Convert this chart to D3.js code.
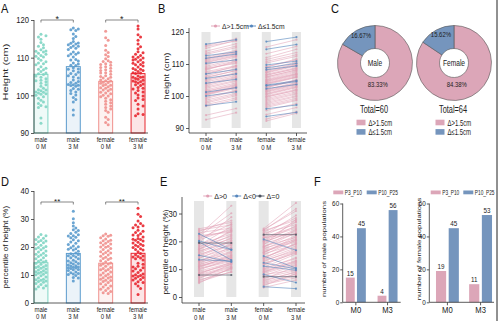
<!DOCTYPE html>
<html>
<head>
<meta charset="utf-8">
<script src="https://cdn.jsdelivr.net/npm/d3@7"></script>
<style>
  body { margin: 0; background: #fff; }
  svg { display: block; }
  text { font-family: "Liberation Sans", Arial, Helvetica, sans-serif; }
</style>
</head>
<body>
<svg id="fig" width="500" height="321"></svg>
<script>
// ---------- data ----------
const groupKeys = ["m0", "m3", "f0", "f3"];
const groupTicks = [["male", "0 M"], ["male", "3 M"], ["female", "0 M"], ["female", "3 M"]];

// body height (cm), one entry per child, same order at 0 and 3 months
const maleHeight0M = [116.2,115.8,115.5,114.9,114.0,113.4,113.0,112.6,112.1,111.8,
  111.5,111.2,110.9,110.6,110.2,109.8,109.3,108.9,108.4,108.1,
  107.6,107.2,106.8,106.3,105.9,105.5,105.1,104.8,104.4,104.0,
  103.6,103.2,102.8,102.4,101.9,101.5,101.2,100.9,100.6,100.3,
  100.0,99.6,99.2,98.7,98.2,97.8,97.3,97.0,94.0,92.6,
  111.7,110.4,108.6,106.9,105.7,103.9,101.4,100.8,100.4,96.8];
const maleHeight3M = [117.6,117.9,117.2,117.4,116.3,115.6,115.1,113.8,114.3,113.1,
  113.6,113.4,113.0,112.7,111.3,112.2,111.5,111.0,110.5,110.9,
  109.5,109.1,109.4,108.6,107.9,106.9,107.3,107.0,106.5,105.2,
  105.8,105.5,104.9,104.6,104.1,103.7,102.6,103.2,102.9,102.4,
  101.3,101.8,101.6,100.9,100.5,100.1,99.4,98.2,96.1,94.8,
  113.9,112.5,110.2,108.3,108.0,106.1,103.4,102.7,102.8,98.9];
const femaleHeight0M = [117.0,115.3,114.6,113.2,112.0,111.4,110.8,110.3,109.7,109.2,
  108.8,108.4,108.0,107.6,107.2,106.8,106.4,106.0,105.6,105.2,
  104.8,104.4,104.1,103.8,103.5,103.2,102.9,102.6,102.3,102.0,
  101.6,101.2,100.8,100.4,100.0,99.6,99.2,98.8,98.4,98.0,
  97.6,97.2,96.8,96.4,96.0,95.5,94.2,93.6,92.8,92.2,
  109.0,108.2,107.4,106.6,105.9,105.0,104.6,103.9,103.4,102.7,
  101.9,101.4,100.6,99.8];
const femaleHeight3M = [118.4,117.6,116.1,115.5,114.6,113.6,112.9,112.4,110.9,111.3,
  110.2,110.6,110.1,109.9,109.4,108.9,108.7,108.1,107.8,107.5,
  106.9,106.6,106.3,105.9,105.8,104.5,105.1,104.8,103.6,104.3,
  103.8,103.3,103.0,102.6,102.1,101.9,101.3,100.9,100.6,100.1,
  99.8,99.3,98.9,98.6,97.2,97.6,96.4,94.9,95.1,94.6,
  111.6,109.4,109.6,108.5,108.2,107.1,106.8,106.0,104.8,104.9,
  104.0,103.6,102.8,101.7];

// height percentile (%), same children
const malePct0M = [24.5,24.0,23.6,23.1,22.7,22.3,21.9,21.5,21.0,20.6,
  20.2,19.8,19.4,19.0,18.6,18.2,17.8,17.4,17.0,16.6,
  16.2,15.8,15.4,15.0,14.6,14.2,13.8,13.4,13.0,12.7,
  12.4,12.1,11.8,11.5,11.2,10.9,10.6,10.3,10.1,11.0,
  12.9,14.9,17.1,19.6,22.1,
  9.7,9.3,8.9,8.5,8.1,7.9,7.7,7.4,7.0,6.6,6.2,5.8,5.4,5.0,8.3];
const malePct3M = [26.8,25.9,27.5,24.8,17.0,32.8,30.1,23.9,26.2,24.4,
  16.9,13.3,19.4,22.6,25.3,21.8,23.5,20.9,22.2,19.7,
  21.3,20.4,18.5,12.6,19.2,17.6,18.9,12.9,16.4,17.3,
  15.8,16.2,14.7,15.3,14.1,13.6,15.0,13.2,12.8,14.4,
  17.9,20.1,24.0,28.7,23.3,
  13.9,12.3,11.6,12.0,11.1,7.9,10.8,10.4,9.8,11.9,8.9,10.2,9.1,10.5,12.5];
const femalePct0M = [24.6,24.2,23.8,23.3,22.9,22.4,22.0,21.5,21.1,20.7,
  20.3,19.9,19.5,19.1,18.7,18.3,17.9,17.5,17.1,16.7,
  16.3,15.9,15.5,15.1,14.7,14.3,13.9,13.5,13.1,12.7,
  12.3,11.9,11.5,11.1,10.7,10.3,10.0,12.0,14.0,16.0,
  18.0,20.0,22.2,24.0,21.3,
  9.7,9.3,8.9,8.5,8.1,7.7,7.3,6.9,6.5,6.1,
  5.7,5.3,4.9,4.5,4.1,3.7,3.4,8.0,9.0];
const femalePct3M = [33.8,30.9,27.6,28.4,26.0,22.4,27.1,25.2,24.7,16.8,
  26.9,23.6,24.3,22.8,27.9,21.4,23.0,20.6,22.1,20.2,
  19.8,21.7,18.9,20.5,10.4,18.3,19.1,17.7,16.6,17.2,
  10.1,15.8,16.1,9.6,15.4,13.8,14.2,16.4,19.4,21.0,
  24.1,25.6,29.3,31.7,22.7,
  13.1,12.6,12.2,11.7,5.2,11.4,7.3,9.5,10.9,8.8,
  9.1,8.2,7.6,6.9,8.4,3.0,6.1,9.8,12.9];

const heightTicks = [90, 100, 110, 120];
const pctTicksD = [0, 10, 20, 30, 40];
const pctTicksE = [0, 10, 20, 30];
const countTicks = [0, 20, 40, 60];

const sigHeight = ["*", "*"];
const sigPct = ["**", "**"];

// share of children by height gain
const donutNames = ["Male", "Female"];
const donutTotals = [60, 64];
const donutPctOver = [83.33, 84.38];
const donutPctUnder = [16.67, 15.62];
const gainLegend = ["\u0394>1.5cm", "\u0394\u22641.5cm"];
const changeLegend = ["\u0394>0", "\u0394<0", "\u0394=0"];

// number of children per percentile band
const popMonths = ["M0", "M3"];
const popBands = ["P3_P10", "P10_P25"];
const malePopP3P10 = [15, 4];
const malePopP10P25 = [45, 56];
const femalePopP3P10 = [19, 11];
const femalePopP10P25 = [45, 53];

// ---------- styling ----------
const groupColors = ["#7fd5c3", "#5b9bcd", "#f0908d", "#e8262f"];
const PINK = "#dca6b8", BLUE = "#7595bd";
const LPINK = "#e09fb4", LBLUE = "#5586bd", LGRAY = "#4b5260";
const AX = "#333", TXT = "#222";

const svg = d3.select("#fig");

function txt(parent, x, y, s, o = {}) {
  const rot = o.rot ? ` rotate(${o.rot})` : "";
  return parent.append("text")
    .attr("transform", `translate(${x},${y}) scale(${o.sx ?? 0.8},1)${rot}`)
    .attr("font-size", o.size ?? 8)
    .attr("text-anchor", o.anchor ?? "start")
    .attr("fill", o.fill ?? TXT)
    .text(s);
}

function hline(parent, x1, x2, y) {
  parent.append("line").attr("x1", x1).attr("x2", x2).attr("y1", y).attr("y2", y)
    .attr("stroke", AX).attr("stroke-width", 0.8);
}
function vline(parent, x, y1, y2) {
  parent.append("line").attr("x1", x).attr("x2", x).attr("y1", y1).attr("y2", y2)
    .attr("stroke", AX).attr("stroke-width", 0.8);
}

function leftAxis(parent, scale, ticks, x, top, bottom, o = {}) {
  const g = parent.append("g").attr("transform", `translate(${x},0)`)
    .call(d3.axisLeft(scale).tickValues(ticks).tickSize(o.tick ?? 3).tickPadding(o.pad ?? 2).tickSizeOuter(0));
  g.select(".domain").remove();
  g.selectAll(".tick line").attr("stroke", AX).attr("stroke-width", 0.8);
  g.selectAll(".tick text").each(function () {
    const t = d3.select(this);
    const tx = +t.attr("x") || 0;
    t.attr("x", null).attr("transform", `translate(${tx},0) scale(${o.sx ?? 0.9},1)`);
  }).attr("font-size", o.size ?? 8.5).attr("fill", TXT);
  g.attr("font-family", null);
  vline(parent, x, top, bottom);
  return g;
}

function groupLabels(parent, xPos, y, o = {}) {
  groupKeys.forEach((k, i) => {
    const t = parent.append("text")
      .attr("transform", `translate(${xPos(k)},${y}) scale(${o.sx ?? 0.8},1)`)
      .attr("font-size", o.size ?? 7.5).attr("text-anchor", "middle").attr("fill", TXT);
    t.append("tspan").attr("x", 0).attr("dy", 0).text(groupTicks[i][0]);
    t.append("tspan").attr("x", 0).attr("dy", o.lh ?? 8).text(groupTicks[i][1]);
  });
}

function swarm(vals, y, cx, r, gap, half) {
  const pts = vals.map(v => ({ v, y: y(v) })).sort((a, b) => a.y - b.y);
  const offs = [0];
  for (let k = 1; k * gap <= half; k++) offs.push(k * gap, -k * gap);
  const placed = [];
  for (const p of pts) {
    let best = 0, bestD = -1;
    for (const o of offs) {
      const x = cx + o;
      let dmin = Infinity;
      for (const q of placed) {
        if (Math.abs(q.y - p.y) < 2 * r + 1) dmin = Math.min(dmin, Math.hypot(q.x - x, q.y - p.y));
      }
      if (dmin >= 2 * r) { best = o; break; }
      if (dmin > bestD) { bestD = dmin; best = o; }
    }
    p.x = cx + best;
    placed.push(p);
  }
  return placed;
}

function bracket(parent, x1, x2, y, mark, size) {
  parent.append("path").attr("d", `M${x1},${y + 2.5}V${y}H${x2}V${y + 2.5}`)
    .attr("fill", "none").attr("stroke", "#555").attr("stroke-width", 0.7);
  txt(parent, (x1 + x2) / 2, y + 1.5, mark, { size, anchor: "middle", sx: 1 });
}

// ---------- bar + dot panels (A, D) ----------
function dotBars(series, yScale, ticks, yTop, yBottom, marks, markY, title, titleOpt) {
  const g = svg.append("g");
  const x = d3.scaleBand().domain(groupKeys).range([34, 145]).paddingInner(0.57).paddingOuter(0);
  const base = yScale(ticks[0]);
  series.forEach((vals, i) => {
    const k = groupKeys[i];
    const m = d3.mean(vals);
    g.append("rect").attr("x", x(k)).attr("width", x.bandwidth())
      .attr("y", yScale(m)).attr("height", base - yScale(m))
      .attr("fill", groupColors[i]).attr("fill-opacity", 0.12)
      .attr("stroke", groupColors[i]).attr("stroke-width", 1);
    const pts = swarm(vals, yScale, x(k) + x.bandwidth() / 2, 1.5, 2.5, 6.2);
    g.selectAll(null).data(pts).join("circle")
      .attr("cx", d => d.x).attr("cy", d => d.y).attr("r", 1.5)
      .attr("fill", groupColors[i]).attr("fill-opacity", 0.9);
  });
  leftAxis(g, yScale, ticks, 34, yTop, yBottom);
  hline(g, 34, 148, yBottom);
  const c = k => x(k) + x.bandwidth() / 2;
  bracket(g, c("m0"), c("m3"), markY, marks[0], titleOpt.markSize);
  bracket(g, c("f0"), c("f3"), markY, marks[1], titleOpt.markSize);
  groupLabels(g, c, yBottom + 8.5);
  txt(g, titleOpt.x, titleOpt.y, title, { size: titleOpt.size, anchor: "middle", rot: -90, sx: titleOpt.sx });
}

const yA = d3.scaleLinear().domain([90, 120]).range([133, 20]);
dotBars([maleHeight0M, maleHeight3M, femaleHeight0M, femaleHeight3M], yA, heightTicks, 20, 133,
  sigHeight, 20, "Height (cm)", { x: 8, y: 72, size: 11, sx: 0.7, markSize: 9 });

const yD = d3.scaleLinear().domain([0, 40]).range([303, 191]);
dotBars([malePct0M, malePct3M, femalePct0M, femalePct3M], yD, pctTicksD, 191, 303,
  sigPct, 202, "percentile of height (%)", { x: 8, y: 247, size: 8, sx: 0.9, markSize: 8 });

// ---------- paired line panels (B, E) ----------
function pairedPanel(pairs, classify, colors, legendItems, legendX, legendY, yScale, ticks, cfg) {
  const g = svg.append("g");
  const x = d3.scalePoint().domain(groupKeys).range(cfg.xRange);
  groupKeys.forEach(k => {
    g.append("rect").attr("x", x(k) - cfg.colW / 2).attr("width", cfg.colW)
      .attr("y", yScale(cfg.domTop)).attr("height", yScale(cfg.domBottom) - yScale(cfg.domTop))
      .attr("fill", "#e6e6e6");
  });
  const segs = [];
  pairs.forEach(([a, b, ka, kb]) => {
    a.forEach((v, i) => segs.push({ x1: x(ka), x2: x(kb), v0: v, v1: b[i], c: classify(v, b[i]) }));
  });
  // draw the majority class first so minority lines sit on top
  segs.sort((s, t) => (s.c === 0 ? 0 : 1) - (t.c === 0 ? 0 : 1));
  segs.forEach(s => {
    const col = colors[s.c];
    const op = s.c === 0 ? 0.7 : 0.8;
    g.append("line").attr("x1", s.x1).attr("x2", s.x2)
      .attr("y1", yScale(s.v0)).attr("y2", yScale(s.v1))
      .attr("stroke", col).attr("stroke-width", 0.75).attr("stroke-opacity", op);
    g.append("circle").attr("cx", s.x1).attr("cy", yScale(s.v0)).attr("r", 1.1).attr("fill", col).attr("fill-opacity", op);
    g.append("circle").attr("cx", s.x2).attr("cy", yScale(s.v1)).attr("r", 1.1).attr("fill", col).attr("fill-opacity", op);
  });
  leftAxis(g, yScale, ticks, cfg.axisX, cfg.axisTop, cfg.axisBottom);
  hline(g, cfg.axisX, cfg.axisRight, cfg.axisBottom);
  groupKeys.forEach(k => vline(g, x(k), cfg.axisBottom, cfg.axisBottom + 3));
  groupLabels(g, x, cfg.axisBottom + 9);
  txt(g, cfg.titleX, cfg.titleY, cfg.title, { size: cfg.titleSize, anchor: "middle", rot: -90, sx: cfg.titleSx });
  legendItems.forEach((lab, i) => {
    const lx = legendX[i];
    g.append("line").attr("x1", lx - 4.5).attr("x2", lx + 4.5).attr("y1", legendY).attr("y2", legendY)
      .attr("stroke", colors[i]).attr("stroke-width", 0.9);
    g.append("circle").attr("cx", lx).attr("cy", legendY).attr("r", 1.6).attr("fill", colors[i]);
    txt(g, lx + 6.5, legendY + 2.6, lab, { size: 7.5, sx: cfg.legendSx });
  });
}

const gain = (a, b) => Math.round((b - a) * 100) / 100;

const yB = d3.scaleLinear().domain([90, 120]).range([128, 32]);
pairedPanel(
  [[maleHeight0M, maleHeight3M, "m0", "m3"], [femaleHeight0M, femaleHeight3M, "f0", "f3"]],
  (a, b) => gain(a, b) > 1.5 ? 0 : 1,
  [LPINK, LBLUE], gainLegend, [215.5, 251.5], 26, yB, heightTicks,
  { xRange: [206, 296.5], colW: 9, domTop: 120, domBottom: 90, axisX: 189, axisTop: 28, axisBottom: 133,
    axisRight: 307, title: "height (cm)", titleX: 168.5, titleY: 76, titleSize: 9.4, titleSx: 0.75, legendSx: 0.9 });

const yE = d3.scaleLinear().domain([0, 34.5]).range([297, 201]);
pairedPanel(
  [[malePct0M, malePct3M, "m0", "m3"], [femalePct0M, femalePct3M, "f0", "f3"]],
  (a, b) => { const d = gain(a, b); return d > 0 ? 0 : (d < 0 ? 1 : 2); },
  [LPINK, LBLUE, LGRAY], changeLegend, [207.7, 236.7, 260], 196, yE, pctTicksE,
  { xRange: [199, 296], colW: 10, domTop: 34.5, domBottom: 0, axisX: 182, axisTop: 197, axisBottom: 303,
    axisRight: 305, title: "percentile of height (%)", titleX: 168, titleY: 252, titleSize: 8.3, titleSx: 0.85, legendSx: 0.95 });

// ---------- donuts (C) ----------
(function () {
  const g = svg.append("g");
  const centers = [375, 454], cy = 63;
  const rIn = 14.5, rOut = 37.5;
  const pie = d3.pie().sort(null).value(d => d.v);
  const arc = d3.arc().innerRadius(rIn).outerRadius(rOut);
  const labelArc = d3.arc().innerRadius(32).outerRadius(32);
  donutNames.forEach((name, i) => {
    const cx = centers[i];
    const gg = g.append("g").attr("transform", `translate(${cx},${cy})`);
    const slices = pie([{ k: 0, v: donutPctOver[i] }, { k: 1, v: donutPctUnder[i] }]);
    gg.selectAll("path").data(slices).join("path")
      .attr("d", arc).attr("fill", d => d.data.k === 0 ? PINK : BLUE)
      .attr("stroke", "#555").attr("stroke-width", 0.6);
    // small slice label near the outer edge, large slice label below the hole
    const pSmall = labelArc.centroid(slices[1]);
    txt(gg, pSmall[0] + 2, pSmall[1] + 2.5, donutPctUnder[i].toFixed(2) + "%", { size: 7, anchor: "middle", sx: 0.85 });
    const ang = Math.PI * 0.96;
    txt(gg, 22 * Math.sin(ang), -22 * Math.cos(ang) + 2.5, donutPctOver[i].toFixed(2) + "%", { size: 7, anchor: "middle", sx: 0.85 });
    txt(gg, 0, 3, name, { size: 8.5, anchor: "middle", sx: 0.78 });
    txt(g, cx - 1, 113, "Total=" + donutTotals[i], { size: 10, anchor: "middle", sx: 0.74 });
    gainLegend.forEach((lab, j) => {
      const ly = 122.5 + j * 9.4;
      g.append("rect").attr("x", cx - 18.5).attr("y", ly - 2.8).attr("width", 9).attr("height", 5.6)
        .attr("fill", j === 0 ? PINK : BLUE);
      txt(g, cx - 6.5, ly + 3, lab, { size: 8.5, sx: 0.7 });
    });
  });
})();

// ---------- grouped bars (F) ----------
function popChart(p3p10, p10p25, cfg) {
  const g = svg.append("g");
  const y = d3.scaleLinear().domain([0, 60]).range([302.3, 203.5]);
  const x = d3.scaleBand().domain(popMonths).range(cfg.range).paddingInner(cfg.pin).paddingOuter(cfg.pout);
  const xs = d3.scaleBand().domain(popBands).range([0, x.bandwidth()]).paddingInner(0.2);
  const series = [p3p10, p10p25];
  const cols = [PINK, BLUE];
  popBands.forEach((b, j) => {
    popMonths.forEach((m, i) => {
      const v = series[j][i];
      const bx = x(m) + xs(b);
      g.append("rect").attr("x", bx).attr("width", xs.bandwidth())
        .attr("y", y(v)).attr("height", y(0) - y(v)).attr("fill", cols[j]);
      txt(g, bx + xs.bandwidth() / 2, y(v) - 2, String(v), { size: 7, anchor: "middle", sx: 0.9 });
    });
  });
  leftAxis(g, y, countTicks, cfg.axisX, 203.5, 302.3, { size: 7.5, sx: 0.85, tick: 2.5, pad: 1 });
  hline(g, cfg.axisX, cfg.axisRight, 302.3);
  popMonths.forEach(m => {
    const cx = x(m) + x.bandwidth() / 2;
    vline(g, cx, 302.3, 305.3);
    txt(g, cx, 312.5, m, { size: 8.5, anchor: "middle", sx: 0.9 });
  });
  txt(g, cfg.titleX, 249, cfg.title, { size: 7.8, anchor: "middle", rot: -90, sx: 0.72 });
  popBands.forEach((b, j) => {
    const lx = cfg.legendX[j];
    g.append("rect").attr("x", lx).attr("y", 190.5).attr("width", 10).attr("height", 3.8).attr("fill", cols[j]);
    txt(g, lx + 11.5, 195.2, b, { size: 7.5, sx: 0.64 });
  });
}

popChart(malePopP3P10, malePopP10P25, {
  range: [342.7, 400.7], pin: 0.37, pout: 0.1, axisX: 342.7, axisRight: 400.7,
  title: "number of male populations", titleX: 326, legendX: [333.3, 366.7] });
popChart(femalePopP3P10, femalePopP10P25, {
  range: [431, 497], pin: 0.31, pout: 0.15, axisX: 429.3, axisRight: 494,
  title: "number of female populations", titleX: 420.5, legendX: [430.7, 463.3] });

// ---------- panel letters and frame ----------
[["A", 1, 13], ["B", 158, 13], ["C", 331, 13], ["D", 1, 186], ["E", 160, 186], ["F", 314, 186]]
  .forEach(([s, x, y]) => txt(svg, x, y, s, { size: 13, sx: 0.85, fill: "#111" }));

svg.append("line").attr("x1", 497).attr("x2", 497).attr("y1", 0).attr("y2", 321)
  .attr("stroke", "#222").attr("stroke-width", 1);
</script>
</body>
</html>
